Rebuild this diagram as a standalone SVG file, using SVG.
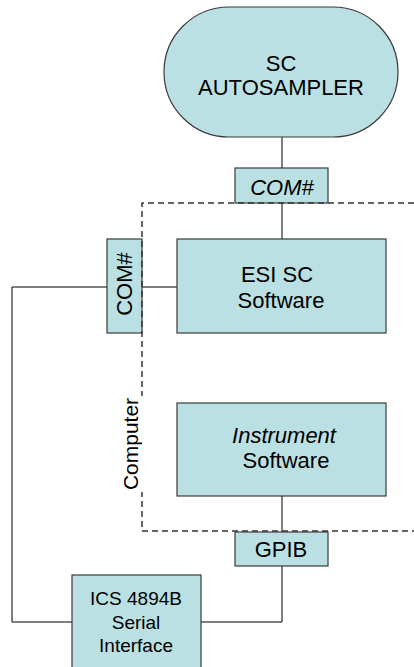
<svg xmlns="http://www.w3.org/2000/svg" width="414" height="667" viewBox="0 0 414 667">
<style>
.box{fill:#BBE0E3;stroke:#3a3a3a;stroke-width:1.2}
.t{font-family:"Liberation Sans",Arial,sans-serif;font-size:22px;fill:#000;text-anchor:middle}
.i{font-style:italic}
.ln{fill:none;stroke:#000;stroke-width:1}
.dash{fill:none;stroke:#333;stroke-width:1.5;stroke-dasharray:6,4}
</style>
<rect width="414" height="667" fill="#fff"/>
<g id="connectors">
<path class="ln" d="M282,137V168"/>
<path class="ln" d="M282,203V239"/>
<path class="ln" d="M177,287H142"/>
<path class="ln" d="M107,287H12V622H72"/>
<path class="ln" d="M282,496V532"/>
<path class="ln" d="M282,566V622H201"/>
</g>
<g id="autosampler">
<rect class="box" x="164" y="7" width="234" height="130" rx="65" ry="65"/>
<text class="t" x="281" y="71">SC</text>
<text class="t" x="281" y="95">AUTOSAMPLER</text>
</g>
<g id="com-top">
<rect class="box" x="235" y="168" width="93" height="35"/>
<text class="t i" x="282" y="195">COM#</text>
</g>
<g id="com-left">
<rect class="box" x="107" y="239" width="35" height="94"/>
<text class="t" transform="translate(132,284) rotate(-90)" x="0" y="0">COM#</text>
</g>
<g id="esi">
<rect class="box" x="177" y="239" width="209" height="94"/>
<text class="t" x="277" y="282">ESI SC</text>
<text class="t" x="281" y="308">Software</text>
</g>
<g id="instrument">
<rect class="box" x="177" y="403" width="209" height="93"/>
<text class="t i" x="284" y="443">Instrument</text>
<text class="t" x="286" y="468">Software</text>
</g>
<g id="gpib">
<rect class="box" x="235" y="532" width="93" height="34"/>
<text class="t" x="281" y="557">GPIB</text>
</g>
<g id="ics">
<rect class="box" x="72" y="575" width="129" height="100"/>
<text class="t" style="font-size:19px" x="136" y="605">ICS 4894B</text>
<text class="t" style="font-size:19px" x="136" y="629">Serial</text>
<text class="t" style="font-size:19px" x="136" y="652">Interface</text>
</g>
<g id="computer">
<path class="dash" d="M414,203H142V531H414"/>
<rect x="124" y="396" width="20" height="96" fill="#fff"/>
<text class="t" style="font-size:21px" transform="translate(138,444) rotate(-90)" x="0" y="0">Computer</text>
</g>
</svg>
